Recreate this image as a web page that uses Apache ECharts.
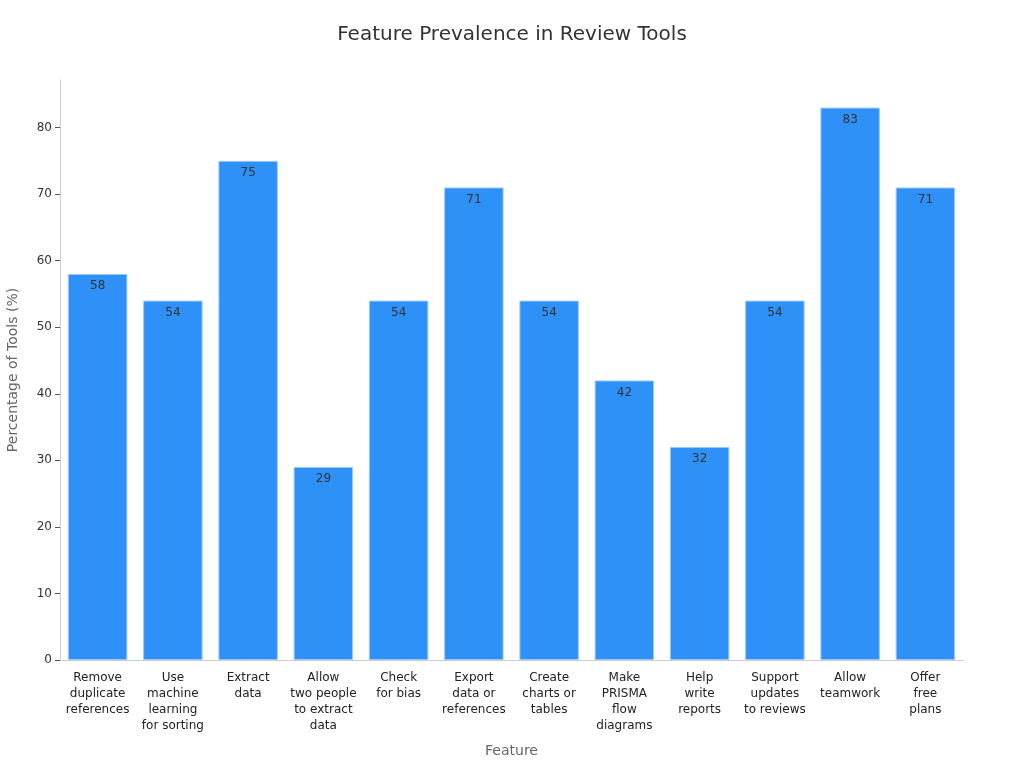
<!DOCTYPE html>
<html>
<head>
<meta charset="utf-8">
<script src="https://cdn.jsdelivr.net/npm/echarts@6/dist/echarts.min.js"></script>
<style>
  html, body { margin: 0; padding: 0; background: #fff; }
  #main { width: 1024px; height: 768px; }
</style>
</head>
<body>
<div id="main"></div>
<script>
var features = [
    'Remove\nduplicate\nreferences',
    'Use\nmachine\nlearning\nfor sorting',
    'Extract\ndata',
    'Allow\ntwo people\nto extract\ndata',
    'Check\nfor bias',
    'Export\ndata or\nreferences',
    'Create\ncharts or\ntables',
    'Make\nPRISMA\nflow\ndiagrams',
    'Help\nwrite\nreports',
    'Support\nupdates\nto reviews',
    'Allow\nteamwork',
    'Offer\nfree\nplans'
];
var percentages = [58, 54, 75, 29, 54, 71, 54, 42, 32, 54, 83, 71];

var myChart = echarts.init(document.getElementById('main'));

var option = {
    backgroundColor: '#fff',
    textStyle: { fontFamily: 'DejaVu Sans' },
    title: {
        text: 'Feature Prevalence in Review Tools',
        left: 'center',
        top: 20,
        textStyle: { fontSize: 20, fontWeight: 'normal', color: '#333', fontFamily: 'DejaVu Sans' }
    },
    grid: { left: 60, right: 61, top: 80, bottom: 108, containLabel: false, outerBoundsMode: 'none' },
    xAxis: {
        type: 'category',
        data: features,
        name: 'Feature',
        nameLocation: 'middle',
        nameGap: 84,
        nameTextStyle: { fontSize: 14, color: '#666' },
        axisLine: { lineStyle: { color: '#ccc' } },
        axisTick: { alignWithLabel: true, length: 4, lineStyle: { color: '#555' } },
        axisLabel: { interval: 0, fontSize: 12, color: '#222', lineHeight: 16, margin: 10 }
    },
    yAxis: {
        type: 'value',
        min: 0,
        max: 87.15,
        interval: 10,
        name: 'Percentage of Tools (%)',
        nameLocation: 'middle',
        nameGap: 40,
        nameTextStyle: { fontSize: 14, color: '#666' },
        axisLine: { show: true, lineStyle: { color: '#ccc' } },
        axisTick: { show: true, length: 5, lineStyle: { color: '#555' } },
        axisLabel: {
            fontSize: 12, color: '#333', margin: 8,
            showMaxLabel: false
        },
        splitLine: { show: false }
    },
    series: [{
        type: 'bar',
        data: percentages,
        barCategoryGap: '21%',
        itemStyle: {
            color: '#2e91f8',
            borderColor: '#9cc8f5',
            borderWidth: 1
        },
        label: {
            show: true,
            position: 'insideTop',
            distance: 6,
            fontSize: 12,
            color: '#333'
        }
    }]
};

myChart.setOption(option);

window.onresize = function () {
    myChart.resize();
};
</script>
</body>
</html>
